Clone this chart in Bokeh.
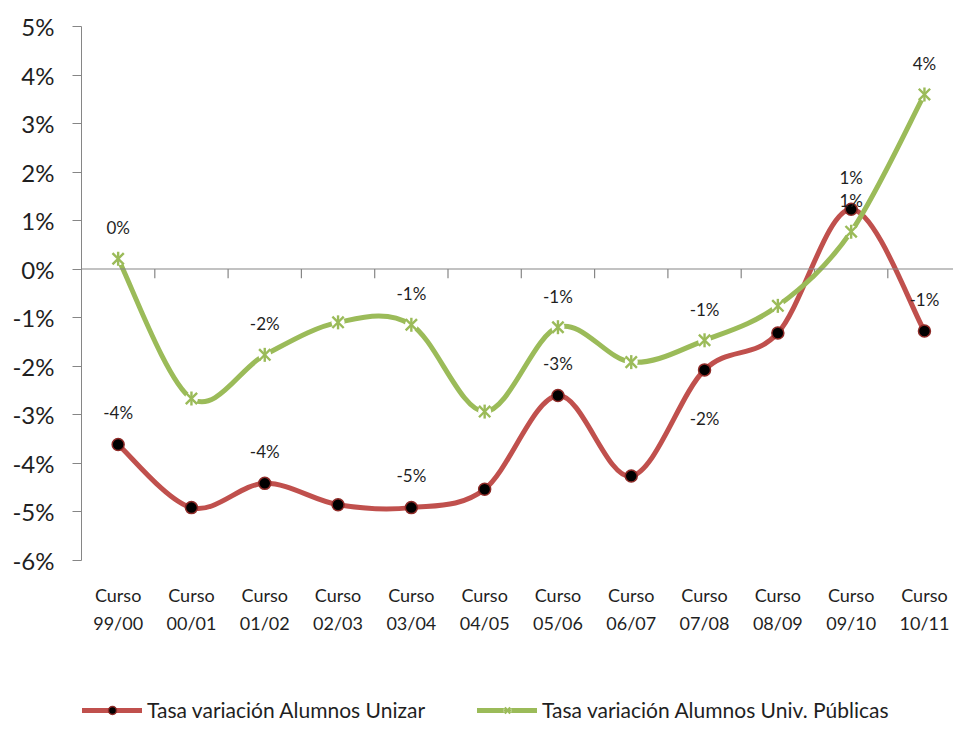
import numpy as np
from bokeh.plotting import figure
from bokeh.models import (Range1d, FixedTicker, Span, Legend, LegendItem,
                          ColumnDataSource)
from bokeh.core.properties import value
from bokeh.embed import file_html
from bokeh.resources import INLINE

# ---------------- data ----------------
categories = ["Curso\n99/00", "Curso\n00/01", "Curso\n01/02", "Curso\n02/03",
              "Curso\n03/04", "Curso\n04/05", "Curso\n05/06", "Curso\n06/07",
              "Curso\n07/08", "Curso\n08/09", "Curso\n09/10", "Curso\n10/11"]
unizar = [-3.62, -4.92, -4.42, -4.86, -4.92, -4.54, -2.61, -4.27, -2.08, -1.32, 1.23, -1.28]
publicas = [0.21, -2.67, -1.77, -1.10, -1.15, -2.94, -1.20, -1.92, -1.47, -0.76, 0.77, 3.60]
labeled_points = [0, 2, 4, 6, 8, 10, 11]
y_ticks = [-6, -5, -4, -3, -2, -1, 0, 1, 2, 3, 4, 5]
y_tick_labels = ["-6%", "-5%", "-4%", "-3%", "-2%", "-1%", "0%", "1%", "2%", "3%", "4%", "5%"]
series_names = ["Tasa variación Alumnos Unizar", "Tasa variación Alumnos Univ. Públicas"]

# ---------------- style / layout ----------------
RED = "#C0504D"
GREEN = "#9BBB59"
AXIS = "#868686"
TXT = "#1f1f1f"
FONT = "Lato"

W, H = 953, 722
LEFT, TOP = 81, 26
PX_PER_UNIT_Y = 48.5      # pixels per 1 %
PX_PER_CAT = 73.3         # pixels per category
y_min, y_max = min(y_ticks), max(y_ticks)
frame_h = H - TOP
frame_w = W - LEFT
y_start = y_max - frame_h / PX_PER_UNIT_Y   # frame extends below the axis to hold labels/legend
x_end = -0.5 + frame_w / PX_PER_CAT

p = figure(width=W, height=H, x_range=Range1d(-0.5, x_end), y_range=Range1d(y_start, y_max),
           output_backend="svg", toolbar_location=None,
           min_border_left=LEFT, min_border_right=0, min_border_top=TOP, min_border_bottom=0)
p.xgrid.visible = False
p.ygrid.visible = False
p.outline_line_color = None
p.background_fill_color = "white"
p.border_fill_color = "white"
p.xaxis.visible = False

# y axis (line only spans the data scale)
ya = p.yaxis[0]
ya.bounds = (y_min, y_max)
ya.ticker = FixedTicker(ticks=y_ticks)
ya.major_label_overrides = {t: l for t, l in zip(y_ticks, y_tick_labels)}
ya.axis_line_color = AXIS
ya.major_tick_line_color = AXIS
ya.minor_tick_line_color = None
ya.major_tick_out = 9
ya.major_tick_in = 0
ya.major_label_standoff = 18
ya.major_label_text_font = FONT
ya.major_label_text_font_size = "24px"
ya.major_label_text_color = TXT

# horizontal zero axis with category boundary ticks
p.add_layout(Span(location=0, dimension="width", line_color=AXIS, line_width=1.2))
bx = np.arange(len(categories) - 1) + 0.5
p.segment(x0=bx, y0=np.zeros_like(bx), x1=bx, y1=np.full_like(bx, -0.19),
          line_color=AXIS, line_width=1.2)

# category labels under the plot area
xs = list(range(len(categories)))
p.text(x=xs, y=[y_min] * len(xs), text=categories, y_offset=49,
       text_align="center", text_baseline="middle", text_line_height=1.26,
       text_font=value(FONT), text_font_size="18px", text_color=TXT)


def smooth(ys):
    y = np.asarray(ys, dtype=float)
    x = np.arange(len(y), dtype=float)
    n = len(y)
    xp = np.concatenate([[x[0]], x, [x[-1]]])
    yp = np.concatenate([[y[0]], y, [y[-1]]])
    prev_x, cur_x, nxt_x, nxt2_x = xp[0:n - 1], xp[1:n], xp[2:n + 1], xp[3:n + 2]
    prev_y, cur_y, nxt_y, nxt2_y = yp[0:n - 1], yp[1:n], yp[2:n + 1], yp[3:n + 2]
    return dict(x0=cur_x, y0=cur_y, x1=nxt_x, y1=nxt_y,
                cx0=cur_x + (nxt_x - prev_x) / 6.0, cy0=cur_y + (nxt_y - prev_y) / 6.0,
                cx1=nxt_x - (nxt2_x - cur_x) / 6.0, cy1=nxt_y - (nxt2_y - cur_y) / 6.0)


# red series
red_curve = p.bezier(source=ColumnDataSource(smooth(unizar)), x0="x0", y0="y0", x1="x1", y1="y1",
                     cx0="cx0", cy0="cy0", cx1="cx1", cy1="cy1",
                     line_color=RED, line_width=5, line_cap="round")
red_pts = p.scatter(xs, unizar, marker="circle", size=12, fill_color="black",
                    line_color="#8E2B28", line_width=1.5)

# green series
green_curve = p.bezier(source=ColumnDataSource(smooth(publicas)), x0="x0", y0="y0", x1="x1", y1="y1",
                       cx0="cx0", cy0="cy0", cx1="cx1", cy1="cy1",
                       line_color=GREEN, line_width=5, line_cap="round")
g_bg = p.scatter(xs, publicas, marker="circle", size=13, fill_color="white", line_color=None)
g_x = p.scatter(xs, publicas, marker="x", size=16, line_color=GREEN, line_width=2.4)
g_d = p.scatter(xs, publicas, marker="dash", angle=np.pi / 2, size=14,
                line_color=GREEN, line_width=2.4)


# data labels
def fmt(v):
    return f"{int(round(v))}%"


lab_x, lab_y, lab_t, lab_off = [], [], [], []
for i in labeled_points:
    lab_x.append(i); lab_y.append(publicas[i]); lab_t.append(fmt(publicas[i])); lab_off.append(-31)
for i in labeled_points:
    lab_x.append(i); lab_y.append(unizar[i]); lab_t.append(fmt(unizar[i]))
    lab_off.append(49 if i == 8 else -32)
p.text(source=ColumnDataSource(dict(x=lab_x, y=lab_y, t=lab_t, off=lab_off)),
       x="x", y="y", text="t", y_offset="off", text_align="center", text_baseline="middle",
       text_font=value(FONT), text_font_size="17px", text_color=TXT)

# legend at the bottom of the (extended) frame
legend = Legend(items=[LegendItem(label=series_names[0], renderers=[red_curve, red_pts]),
                       LegendItem(label=series_names[1],
                                  renderers=[green_curve, g_bg, g_x, g_d])],
                orientation="horizontal", location=(1, 0), margin=0, padding=0,
                spacing=52, glyph_width=60, glyph_height=20, label_standoff=5,
                label_text_font=FONT, label_text_font_size="21px", label_text_color=TXT,
                border_line_color=None, background_fill_alpha=0)
p.add_layout(legend, "center")

open("out.html", "w").write(file_html(p, INLINE))
